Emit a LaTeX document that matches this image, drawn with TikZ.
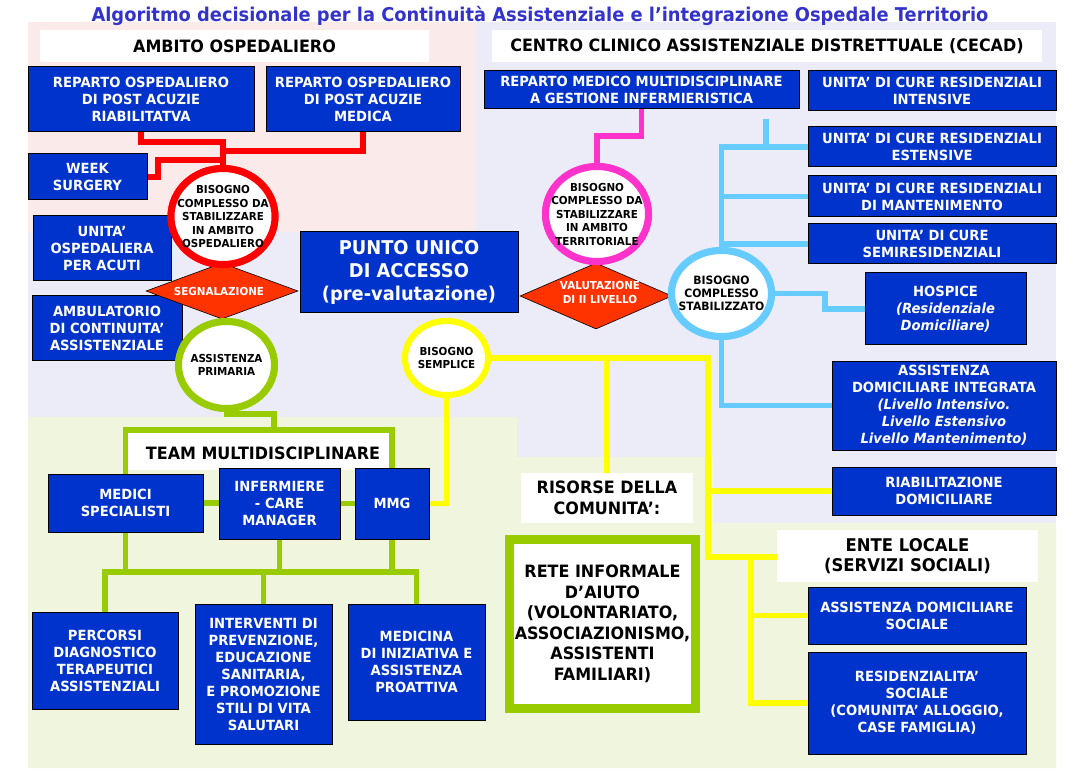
\documentclass[tikz,border=0pt]{standalone}
\usepackage{fontspec}
\setmainfont{DejaVu Sans}[FakeStretch=0.94]
\usetikzlibrary{shapes.geometric}
\definecolor{boxblue}{RGB}{0,51,204}
\definecolor{titleblue}{RGB}{51,51,204}
\definecolor{ringred}{RGB}{255,0,0}
\definecolor{ringpink}{RGB}{255,51,204}
\definecolor{ringsky}{RGB}{102,204,255}
\definecolor{ringgreen}{RGB}{153,204,0}
\definecolor{ringyellow}{RGB}{255,255,0}
\definecolor{diamondred}{RGB}{255,51,0}
\definecolor{bgpink}{RGB}{250,234,234}
\definecolor{bgblue}{RGB}{236,236,248}
\definecolor{bggreen}{RGB}{240,246,222}
\newcommand{\fsz}[2]{\fontsize{#1}{#2}\selectfont}
\tikzset{
 bbox/.style={draw=black, line width=1pt, fill=boxblue, text=white, font=\bfseries\fsz{14}{17}, align=center, inner sep=0pt},
 ring/.style={ellipse, draw=#1, line width=7pt, fill=white, inner sep=0pt},
 ctext/.style={font=\bfseries\fsz{11}{13.5}, align=center, text=black},
 dia/.style={diamond, draw=black, line width=0.6pt, fill=diamondred, inner sep=0pt},
 dtext/.style={font=\bfseries\fsz{11}{14}, align=center, text=white},
 conn/.style={line width=5.5pt, draw=#1},
 hdr/.style={font=\bfseries\fsz{17}{20}, align=center, text=black, inner sep=0pt},
 big/.style={font=\bfseries\fsz{17}{20.5}, align=center, text=black, inner sep=0pt},
}
\begin{document}
\begin{tikzpicture}[x=1pt,y=-1pt]
\useasboundingbox (0,0) rectangle (1081,775);
% backgrounds
\fill[bgblue] (28,22) rectangle (1056,768);
\fill[bgpink] (28,22) rectangle (476,232);
\fill[bggreen] (28,417) -- (517,417) -- (517,457) -- (713,457) -- (713,523) -- (1056,523) -- (1056,768) -- (28,768) -- cycle;
\fill[white] (128,433) rectangle (390,470);
% title and headers
\node[font=\bfseries\fsz{19}{22}, text=titleblue] (title) at (540,16) {Algoritmo decisionale per la Continuità Assistenziale e l’integrazione Ospedale Territorio};
\node[hdr, fill=white, minimum width=389pt, minimum height=32pt] (hosp) at (234.5,46) {AMBITO OSPEDALIERO};
\node[hdr, fill=white, minimum width=550pt, minimum height=32pt] (cecad) at (767,46) {CENTRO CLINICO ASSISTENZIALE DISTRETTUALE (CECAD)};
% boxes
\node[bbox, minimum width=226pt, minimum height=65pt] (b1) at (141,99.5) {REPARTO OSPEDALIERO\\DI POST ACUZIE\\RIABILITATVA};
\node[bbox, minimum width=194pt, minimum height=65pt] (b2) at (363,99.5) {REPARTO OSPEDALIERO\\DI POST ACUZIE\\MEDICA};
\node[bbox, minimum width=119pt, minimum height=46pt] (week) at (87.5,177) {WEEK\\SURGERY};
\node[bbox, minimum width=138pt, minimum height=65pt] (acuti) at (102,248.5) {UNITA’\\OSPEDALIERA\\PER ACUTI};
\node[bbox, minimum width=150pt, minimum height=64pt] (ambul) at (107,328) {AMBULATORIO\\DI CONTINUITA’\\ASSISTENZIALE};
\node[bbox, minimum width=218pt, minimum height=81pt, font=\bfseries\fsz{19}{23}] (pua) at (409,272.5) {PUNTO UNICO\\DI ACCESSO\\(pre-valutazione)};
\node[bbox, minimum width=315pt, minimum height=38pt] (b7) at (641.5,90) {REPARTO MEDICO MULTIDISCIPLINARE\\A GESTIONE INFERMIERISTICA};
\node[bbox, minimum width=248pt, minimum height=40pt] (intens) at (932,91) {UNITA’ DI CURE RESIDENZIALI\\INTENSIVE};
\node[bbox, minimum width=248pt, minimum height=40pt] (est) at (932,147) {UNITA’ DI CURE RESIDENZIALI\\ESTENSIVE};
\node[bbox, minimum width=248pt, minimum height=41pt] (mant) at (932,196.5) {UNITA’ DI CURE RESIDENZIALI\\DI MANTENIMENTO};
\node[bbox, minimum width=248pt, minimum height=40pt] (semi) at (932,244) {UNITA’ DI CURE\\SEMIRESIDENZIALI};
\node[bbox, minimum width=161pt, minimum height=72pt] (hospice) at (945.5,309) {HOSPICE\\\textit{(Residenziale}\\\textit{Domiciliare)}};
\node[bbox, minimum width=224pt, minimum height=89pt] (adi) at (944,405.5) {ASSISTENZA\\DOMICILIARE INTEGRATA\\\textit{(Livello Intensivo.}\\\textit{Livello Estensivo}\\\textit{Livello Mantenimento)}};
\node[bbox, minimum width=224pt, minimum height=48pt] (riab) at (944,491) {RIABILITAZIONE\\DOMICILIARE};
\node[bbox, minimum width=155pt, minimum height=58pt] (medici) at (125.5,503) {MEDICI\\SPECIALISTI};
\node[bbox, minimum width=121pt, minimum height=71pt] (inf) at (279.5,503.5) {INFERMIERE\\- CARE\\MANAGER};
\node[bbox, minimum width=74pt, minimum height=71pt] (mmg) at (392,503.5) {MMG};
\node[bbox, minimum width=146pt, minimum height=97pt] (perc) at (105,660.5) {PERCORSI\\DIAGNOSTICO\\TERAPEUTICI\\ASSISTENZIALI};
\node[bbox, minimum width=137pt, minimum height=140pt] (interv) at (263.5,674) {INTERVENTI DI\\PREVENZIONE,\\EDUCAZIONE\\SANITARIA,\\E PROMOZIONE\\STILI DI VITA\\SALUTARI};
\node[bbox, minimum width=137pt, minimum height=116pt] (medic) at (416.5,662) {MEDICINA\\DI INIZIATIVA E\\ASSISTENZA\\PROATTIVA};
\node[bbox, minimum width=218pt, minimum height=57pt] (ads) at (917,615.5) {ASSISTENZA DOMICILIARE\\SOCIALE};
\node[bbox, minimum width=218pt, minimum height=102pt] (resid) at (917,703) {RESIDENZIALITA’\\SOCIALE\\(COMUNITA’ ALLOGGIO,\\CASE FAMIGLIA)};
% white label boxes
\node[big, fill=white, minimum width=172pt, minimum height=50pt] (ris) at (607,498) {RISORSE DELLA\\COMUNITA’:};
\node[big, fill=white, minimum width=261pt, minimum height=52pt, font=\bfseries\fsz{17.5}{20}] (ente) at (907.5,556) {ENTE LOCALE\\(SERVIZI SOCIALI)};
\node[big, draw=ringgreen, line width=9pt, fill=white, minimum width=186pt, minimum height=169pt] (rete) at (602.5,624) {RETE INFORMALE\\D’AIUTO\\(VOLONTARIATO,\\ASSOCIAZIONISMO,\\ASSISTENTI\\FAMILIARI)};
\node[big] (team) at (263,453) {TEAM MULTIDISCIPLINARE};
% coordinates for bends
\coordinate (rd1) at (223,142);
\coordinate (rd2) at (223,151);
\coordinate (rd3) at (158,160);
\coordinate (pk) at (597,136);
\coordinate (sk0) at (766,119);
\coordinate (sk1) at (825,293.5);
\coordinate (gA) at (274,414);
\coordinate (gB) at (274,430);
\coordinate (gH) at (263.5,572);
\coordinate (y1) at (708,358);
\coordinate (y2) at (708,557);
\coordinate (y3) at (751,557);
% ring geometry (named nodes, redrawn on top later)
\node[ring=ringred, minimum width=104pt, minimum height=96pt] (c1) at (223,216.5) {};
\node[ring=ringpink, minimum width=103pt, minimum height=95pt] (c2) at (597,214) {};
\node[ring=ringsky, minimum width=100pt, minimum height=86pt] (c3) at (721.5,293.5) {};
\node[ring=ringgreen, minimum width=96pt, minimum height=87pt] (c4) at (226.5,365) {};
\node[ring=ringyellow, line width=6pt, minimum width=83pt, minimum height=74pt] (c5) at (446.5,358) {};
% red
\draw[conn=ringred] (b1.south) |- (rd1) -- (c1.north);
\draw[conn=ringred] (b2.south) |- (rd2);
\draw[conn=ringred] (week.east) -| (rd3) -- (rd3 -| rd1);
% pink
\draw[conn=ringpink] (b7.south) |- (pk) -- (c2.north);
% sky
\draw[conn=ringsky] (est.west) -| (c3.north);
\draw[conn=ringsky] (mant.west) -- (mant.west -| c3.north);
\draw[conn=ringsky] (semi.west) -- (semi.west -| c3.north);
\draw[conn=ringsky] (sk0) -- (sk0 |- est.west);
\draw[conn=ringsky] (c3.east) -- (sk1) |- (hospice.west);
\draw[conn=ringsky] (c3.south) |- (adi.west);
% green
\draw[conn=ringgreen] (c4.south) |- (gA) -- (gB);
\draw[conn=ringgreen] (medici.north) |- (mmg.north |- gB) -- (mmg.north);
\draw[conn=ringgreen] (medici.east) -- (medici.east -| inf.west);
\draw[conn=ringgreen] (inf.east) -- (inf.east -| mmg.west);
\draw[conn=ringgreen] (perc.north) |- (gH) -| (medic.north);
\draw[conn=ringgreen] (interv.north) -- (gH);
\draw[conn=ringgreen] (medici.south) -- (medici.south |- gH);
\draw[conn=ringgreen] (inf.south) -- (inf.south |- gH);
\draw[conn=ringgreen] (mmg.south) -- (mmg.south |- gH);
% yellow
\draw[conn=ringyellow] (c5.east) -- (y1) -- (y2) -- (y2 -| ente.west);
\draw[conn=ringyellow] (ris.north) -- (ris.north |- y1);
\draw[conn=ringyellow] (riab.west) -- (riab.west -| y1);
\draw[conn=ringyellow] (y3) |- (resid.west);
\draw[conn=ringyellow] (ads.west) -- (ads.west -| y3);
\draw[conn=ringyellow] (c5.south) |- (mmg.east);
% diamonds
\node[dia, minimum width=152pt, minimum height=56pt] (segn) at (222,291) {};
\node[dia, minimum width=152pt, minimum height=66pt] (valut) at (596,296) {};
\node[dtext] (segnt) at (219,291) {SEGNALAZIONE};
\node[dtext] (valutt) at (600,292) {VALUTAZIONE\\DI II LIVELLO};
% rings on top
\node[ring=ringred, minimum width=104pt, minimum height=96pt] (c1b) at (c1) {};
\node[ring=ringpink, minimum width=103pt, minimum height=95pt] (c2b) at (c2) {};
\node[ring=ringsky, minimum width=100pt, minimum height=86pt] (c3b) at (c3) {};
\node[ring=ringgreen, minimum width=96pt, minimum height=87pt] (c4b) at (c4) {};
\node[ring=ringyellow, line width=6pt, minimum width=83pt, minimum height=74pt] (c5b) at (c5) {};
\node[ctext] (c1t) at (c1) {BISOGNO\\COMPLESSO DA\\STABILIZZARE\\IN AMBITO\\OSPEDALIERO};
\node[ctext] (c2t) at (c2) {BISOGNO\\COMPLESSO DA\\STABILIZZARE\\IN AMBITO\\TERRITORIALE};
\node[ctext, font=\bfseries\fsz{11.5}{13}] (c3t) at (c3) {BISOGNO\\COMPLESSO\\STABILIZZATO};
\node[ctext] (c4t) at (c4) {ASSISTENZA\\PRIMARIA};
\node[ctext] (c5t) at (c5) {BISOGNO\\SEMPLICE};
\end{tikzpicture}
\end{document}
